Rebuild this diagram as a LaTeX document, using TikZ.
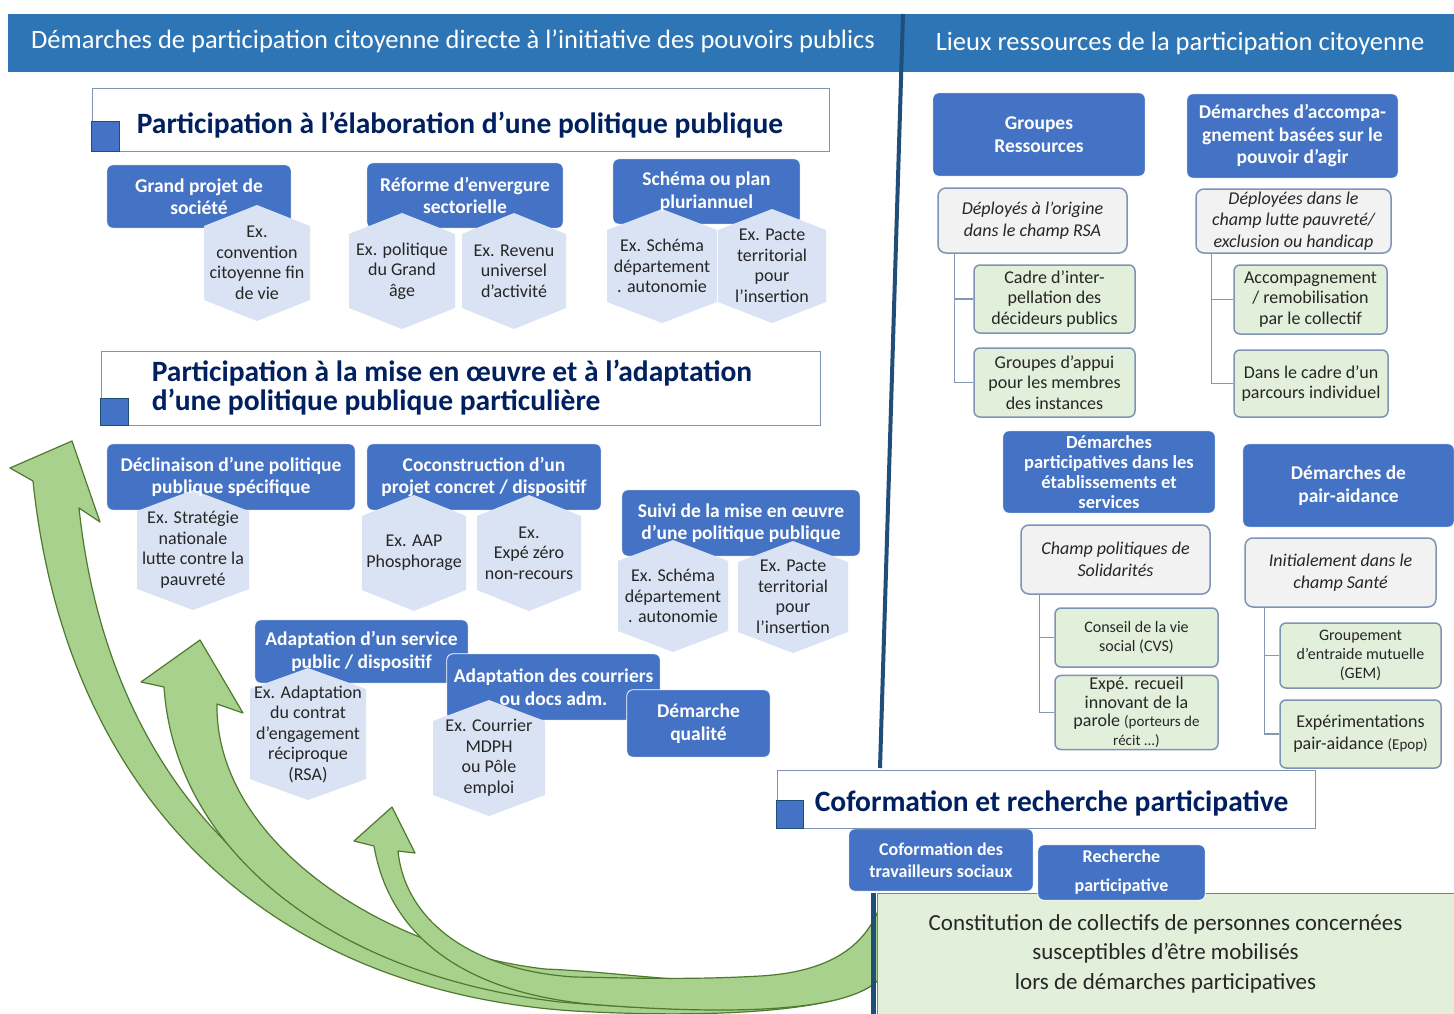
\documentclass[tikz,border=0pt]{standalone}
\usepackage{fontspec}
\setmainfont{Carlito}
\usepackage{tikz}
\usetikzlibrary{positioning,calc}

\definecolor{headblue}{HTML}{2E75B6}
\definecolor{boxblue}{HTML}{4472C4}
\definecolor{darkblue}{HTML}{1F4E79}
\definecolor{navy}{HTML}{002060}
\definecolor{hexblue}{HTML}{DAE3F3}
\definecolor{lightgreen}{HTML}{E2EFDA}
\definecolor{lightgray}{HTML}{F2F2F2}
\definecolor{edgeblue}{HTML}{7F93B5}
\definecolor{treegray}{HTML}{8496B0}
\definecolor{arrowfill}{HTML}{A9D18E}
\definecolor{arrowedge}{HTML}{4E7A2E}
\definecolor{inktext}{HTML}{262626}

\pgfdeclarelayer{back}
\pgfdeclarelayer{mid}
\pgfsetlayers{back,mid,main}

\newcommand{\fs}[2]{\fontsize{#1}{#2}\selectfont}

\tikzset{
  wh/.style 2 args={minimum width=#1pt, minimum height=#2pt},
  headtext/.style={text=white, font=\fs{26.5}{30}},
  divider/.style={draw=darkblue, line width=4pt},
  titlebox/.style={fill=white, draw=edgeblue, line width=0.8pt},
  titletext/.style={anchor=west, align=left, text=navy, font=\fs{29.5}{29}\bfseries, inner sep=0pt},
  titlesquare/.style={fill=boxblue, draw=darkblue, line width=0.8pt},
  bluebox/.style={text=white, align=center, font=\fs{19.5}{22.5}\bfseries, inner sep=2pt},
  boxfill/.style={fill=boxblue, draw=white, line width=0.8pt, rounded corners=6pt},
  hextext/.style={align=center, text=inktext, font=\fs{18}{20.5}, inner sep=0pt},
  graybox/.style={fill=lightgray, draw=edgeblue, line width=1.5pt, rounded corners=8pt,
    align=center, text=inktext, font=\fs{18}{21.5}\itshape, inner sep=2pt},
  greenbox/.style={fill=lightgreen, draw=edgeblue, line width=1.5pt, rounded corners=6pt,
    align=center, text=inktext, font=\fs{18}{20.5}, inner sep=2pt},
  tree/.style={draw=treegray, line width=1.2pt},
  greenarrow/.style={fill=arrowfill, draw=arrowedge, line width=1.2pt, line join=round},
  bigbox/.style={fill=lightgreen, draw=black!50, line width=0.8pt,
    align=center, text=inktext, font=\fs{23}{29.5}}
}

% hexagon: name, x, y, half width, half height, text
\newcommand{\hexa}[6]{%
  \begin{pgfonlayer}{mid}
  \fill[hexblue] (#2,#3) +(0,-#5) -- +(#4,-#5+21) -- +(#4,#5-21) -- +(0,#5)
    -- +(-#4,#5-21) -- +(-#4,-#5+21) -- cycle;
  \end{pgfonlayer}
  \node[hextext] (#1) at (#2,#3) {#6};}

\begin{document}
\begin{tikzpicture}[x=1pt,y=-1pt]
\useasboundingbox (0,0) rectangle (1454,1014);

\begin{pgfonlayer}{back}
\fill[white] (0,0) rectangle (1454,1014);
% bandeau
\fill[headblue] (8,14) rectangle (1454,72);

% fleches vertes
\coordinate (tailtop) at (882,900);
\coordinate (tailbot) at (880,978);
\draw[greenarrow] (33,481) .. controls (65,790) and (260,990) .. (574,1011)
  .. controls (700,1018) and (850,1014) .. (tailbot) -- (tailtop)
  .. controls (868,948) and (830,978) .. (760,984)
  .. controls (680,988) and (620,984) .. (545,980)
  .. controls (300,965) and (110,800) .. (79,508)
  -- (100,522) -- (72,441) -- (10,468) -- cycle;
\draw[greenarrow] (164,687) .. controls (175,850) and (330,975) .. (560,1002)
  .. controls (700,1014) and (850,1014) .. (tailbot) -- (tailtop)
  .. controls (868,948) and (830,976) .. (760,980)
  .. controls (680,984) and (620,972) .. (545,969)
  .. controls (380,950) and (215,840) .. (217,704)
  -- (243,713) -- (200,640) -- (141,682) -- cycle;
\draw[greenarrow] (374,846) .. controls (390,940) and (470,995) .. (600,1005)
  .. controls (720,1014) and (850,1014) .. (tailbot) -- (tailtop)
  .. controls (868,946) and (830,972) .. (760,976)
  .. controls (690,980) and (630,978) .. (574,977)
  .. controls (470,970) and (405,920) .. (398,851)
  -- (415,853) -- (392,807) -- (354,841) -- cycle;

\node[bigbox, wh={577}{121}] (coll) at (1165.5,953.5) {Constitution de collectifs de personnes concernées\\susceptibles d’être mobilisés\\lors de démarches participatives};
\draw[draw=darkblue, line width=5pt] ([xshift=-3pt]coll.north west) -- ([xshift=-3pt]coll.south west);
\end{pgfonlayer}

\node[headtext] (hleft) at (453,41) {Démarches de participation citoyenne directe à l’initiative des pouvoirs publics};
\node[headtext] (hright) at (1180,43) {Lieux ressources de la participation citoyenne};
\coordinate (divtop) at (903,14);
\coordinate (divbot) at (880,768);
\draw[divider] (divtop) -- (divbot);

% elaboration
\node[titlebox, wh={737}{63}] (t1) at (460.5,119.5) {};
\draw[titlesquare] (t1.south west) rectangle ++(28,-30);
\node[titletext] (t1txt) at ($(t1.west)+(45,6)$) {Participation à l’élaboration d’une politique publique};

\node[bluebox, wh={184}{63}] (gp) at (199,196.5) {Grand projet de\\société};
\node[bluebox, wh={196}{65}] (ref) at (465,195.5) {Réforme d’envergure\\sectorielle};
\node[bluebox, wh={187}{65}] (sch) at (706.5,191.5) {Schéma ou plan\\pluriannuel};
\hexa{h1}{257}{263}{53}{58}{Ex.\\convention\\citoyenne fin\\de vie}
\hexa{h2}{402}{271}{53}{58}{Ex. politique\\du Grand\\âge}
\hexa{h3}{514}{271}{52}{58}{Ex. Revenu\\universel\\d’activité}
\hexa{h4}{662}{266}{55}{57}{Ex. Schéma\\département\\. autonomie}
\hexa{h5}{772}{266}{54}{57}{Ex. Pacte\\territorial\\pour\\l’insertion}

% mise en oeuvre
\node[titlebox, wh={719}{74}] (t2) at (460.5,388) {};
\draw[titlesquare] (t2.south west) rectangle ++(28,-27);
\node[titletext] (t2txt) at ($(t2.west)+(51,0)$) {Participation à la mise en œuvre et à l’adaptation\\d’une politique publique particulière};

\node[bluebox, wh={248}{66}] (dec) at (231,477) {Déclinaison d’une politique\\publique spécifique};
\node[bluebox, wh={234}{66}] (coc) at (484,477) {Coconstruction d’un\\projet concret / dispositif};
\node[bluebox, wh={238}{66}] (sui) at (741,523) {Suivi de la mise en œuvre\\d’une politique publique};
\hexa{h6}{193}{550}{56}{60}{Ex. Stratégie\\nationale\\lutte contre la\\pauvreté}
\hexa{h7}{414}{553}{52}{58}{Ex. AAP\\Phosphorage}
\hexa{h8}{529}{553}{52}{58}{Ex.\\Expé zéro\\non-recours}
\hexa{h9}{673}{596}{55}{56}{Ex. Schéma\\département\\. autonomie}
\hexa{h10}{793}{597}{55}{56}{Ex. Pacte\\territorial\\pour\\l’insertion}

\node[bluebox, wh={213}{63}] (ser) at (361.5,651.5) {Adaptation d’un service\\public / dispositif};
\hexa{h11}{308}{734}{58}{66}{Ex. Adaptation\\du contrat\\d’engagement\\réciproque\\(RSA)}
\node[bluebox, wh={213}{66}] (cou) at (553.5,687) {Adaptation des courriers\\ou docs adm.};
\hexa{h12}{489}{758}{56}{58}{Ex. Courrier\\MDPH\\ou Pôle\\emploi}
\node[bluebox, wh={143}{67}] (qua) at (698.5,723.5) {Démarche\\qualité};

% lieux ressources
\node[bluebox, wh={212}{83}] (grr) at (1039,134.5) {Groupes\\Ressources};
\node[graybox, wh={189}{65}] (d1) at (1032.5,220.5) {Déployés à l’origine\\dans le champ RSA};
\node[greenbox, wh={161}{68}] (g1) at (1054.5,299) {Cadre d’inter-\\pellation des\\décideurs publics};
\node[greenbox, wh={161}{69}] (g2) at (1054.5,382.5) {Groupes d’appui\\pour les membres\\des instances};
\draw[tree] ([xshift=17pt]d1.south west) |- (g1.west);
\draw[tree] ([xshift=17pt]d1.south west) |- (g2.west);

\node[bluebox, wh={211}{84}] (acc) at (1292.5,136) {Démarches d’accompa-\\gnement basées sur le\\pouvoir d’agir};
\node[graybox, wh={195}{64}] (d2) at (1293.5,221) {Déployées dans le\\champ lutte pauvreté/\\exclusion ou handicap};
\node[greenbox, wh={153}{69}] (g3) at (1310.5,299.5) {Accompagnement\\/ remobilisation\\par le collectif};
\node[greenbox, wh={154}{67}] (g4) at (1311,383.5) {Dans le cadre d’un\\parcours individuel};
\draw[tree] ([xshift=16pt]d2.south west) |- (g3.west);
\draw[tree] ([xshift=16pt]d2.south west) |- (g4.west);

\node[bluebox, wh={212}{82}, font=\fs{18.5}{20}\bfseries] (eta) at (1109,472) {Démarches\\participatives dans les\\établissements et\\services};
\node[graybox, wh={189}{69}] (d3) at (1115.5,559.5) {Champ politiques de\\Solidarités};
\node[greenbox, wh={163}{59}, font=\fs{16}{19}] (g5) at (1136.5,637.5) {Conseil de la vie\\social (CVS)};
\node[greenbox, wh={163}{69}, font=\fs{18}{18.5}] (g6) at (1136.5,712.5) {Expé. recueil\\innovant de la\\parole {\fs{15}{18.5}(porteurs de}\\{\fs{15}{18.5}récit ...)}};
\draw[tree] ([xshift=19pt]d3.south west) |- (g5.west);
\draw[tree] ([xshift=19pt]d3.south west) |- (g6.west);

\node[bluebox, wh={211}{83}] (pai) at (1348.5,485.5) {Démarches de\\pair-aidance};
\node[graybox, wh={191}{69}] (d4) at (1340.5,572.5) {Initialement dans le\\champ Santé};
\node[greenbox, wh={161}{65}, font=\fs{16}{19}] (g7) at (1360.5,655.5) {Groupement\\d’entraide mutuelle\\(GEM)};
\node[greenbox, wh={161}{68}, font=\fs{18}{22}] (g8) at (1360.5,734) {Expérimentations\\pair-aidance {\fs{15}{22}(Epop)}};
\draw[tree] ([xshift=20pt]d4.south west) |- (g7.west);
\draw[tree] ([xshift=20pt]d4.south west) |- (g8.west);

% coformation
\node[titlebox, wh={538}{58}] (t3) at (1046,799) {};
\draw[titlesquare] (t3.south west) rectangle ++(27,-28);
\node[titletext] (t3txt) at ($(t3.west)+(38,4)$) {Coformation et recherche participative};

\node[bluebox, wh={184}{62}, font=\fs{18}{22}\bfseries] (cof) at (941,860) {Coformation des\\travailleurs sociaux};
\node[bluebox, wh={167}{55}, font=\fs{18}{20}\bfseries] (rec) at (1121.5,872.5) {Recherche\\[9pt]participative};

% fonds des cadres bleus
\begin{pgfonlayer}{back}
\foreach \b in {gp,ref,sch,dec,coc,sui,ser,cou,qua,grr,acc,eta,pai,cof,rec}
  \draw[boxfill] (\b.south west) rectangle (\b.north east);
\end{pgfonlayer}
\end{tikzpicture}
\end{document}
